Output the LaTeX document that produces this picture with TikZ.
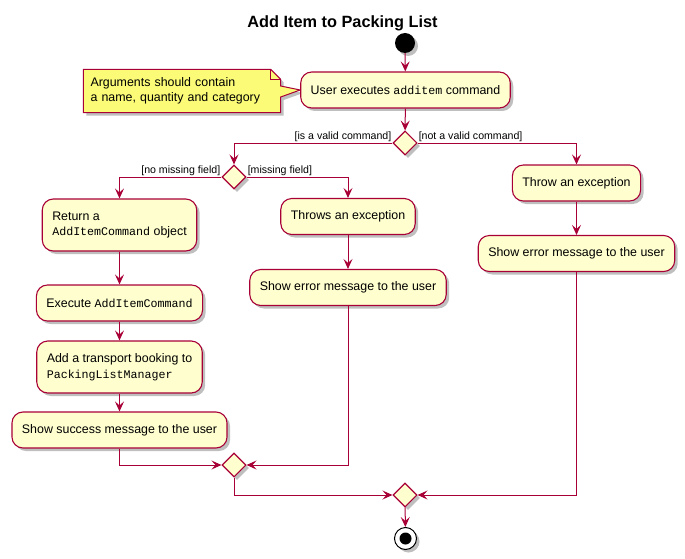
\documentclass[tikz,border=0pt]{standalone}
\usepackage{fontspec}
\setmainfont{Liberation Sans}
\setmonofont[Scale=0.94]{Liberation Mono}
\usepackage{tikz}
\usetikzlibrary{shapes,shapes.geometric,calc,arrows,arrows.meta,positioning,shadows,backgrounds}
\definecolor{umlred}{HTML}{A80036}
\definecolor{actfill}{HTML}{FEFECE}
\definecolor{notefill}{HTML}{FBFB77}
\tikzset{
  shade/.style={drop shadow={shadow xshift=3pt, shadow yshift=-3pt, opacity=0.25, fill=black}},
  action/.style={draw=umlred, fill=actfill, line width=1.1pt, rounded corners=11pt, inner xsep=10pt, minimum height=36pt, align=left, font=\fontsize{12.4}{15.5}\selectfont, shade},
  decision/.style={diamond, draw=umlred, fill=actfill, line width=1.1pt, minimum width=24pt, minimum height=24pt, inner sep=0pt, shade},
  startdot/.style={circle, fill=black, minimum size=20pt, inner sep=0pt, shade},
  enddot/.style={circle, draw=black, fill=white, line width=1pt, minimum size=22pt, inner sep=0pt, shade, path picture={\fill[black] (path picture bounding box.center) circle (6pt);}},
  notebox/.style={text width=183pt, minimum height=43pt, inner xsep=7pt, align=left, font=\fontsize{12.4}{15.5}\selectfont},
  flow/.style={draw=umlred, line width=1pt, -{Stealth[length=10pt, width=9pt, inset=4pt]}},
  guard/.style={font=\fontsize{10.6}{13}\selectfont, inner sep=1pt}
}
\begin{document}
\begin{tikzpicture}[x=1pt, y=-1pt]
  \useasboundingbox (0,0) rectangle (685,559);
  \node (title) at (342.5,23) {\fontsize{16.3}{19}\selectfont\bfseries Add Item to Packing List};
  \node[startdot] (start) at (405,43) {};
  \node[action] (exec1) at (405.5,90) {User executes \texttt{additem} command};
  \node[notebox] (note) at (182,91) {Arguments should contain\\a name, quantity and category};
  \begin{scope}[on background layer]
    \path[fill=notefill, draw=umlred, line width=1pt, shade]
      (note.south west) -- (note.north west) -- ($(note.north east)+(-10,0)$)
      -- ($(note.north east)+(0,10)$) -- ($(note.east)+(0,-5)$) -- (exec1.west)
      -- ($(note.east)+(0,6)$) -- (note.south east) -- cycle;
    \draw[umlred, line width=1pt] ($(note.north east)+(-10,0)$) -- ($(note.north east)+(-10,10)$) -- ($(note.north east)+(0,10)$);
  \end{scope}
  \node[decision] (valid) at (405,143) {};
  \node[decision] (field) at (234,177) {};
  \node[action, minimum height=52pt] (ret) at (119.5,225) {Return a\\\texttt{AddItemCommand} object};
  \node[action] (exec) at (119.5,303) {Execute \texttt{AddItemCommand}};
  \node[action, minimum height=52pt] (add) at (119.5,367) {Add a transport booking to\\\texttt{PackingListManager}};
  \node[action] (success) at (119.5,430) {Show success message to the user};
  \node[action] (throws) at (348,216.5) {Throws an exception};
  \node[action] (err1) at (348,287.5) {Show error message to the user};
  \node[action] (throw) at (576.5,183) {Throw an exception};
  \node[action] (err2) at (576.5,253.5) {Show error message to the user};
  \node[decision] (merge1) at (234,465) {};
  \node[decision] (merge2) at (405,495) {};
  \node[enddot] (end) at (405.5,538.5) {};

  \draw[flow] (start) -- (exec1);
  \draw[flow] (exec1) -- (valid);
  \draw[flow] (valid.west) -| (field.north);
  \node[guard, anchor=south east] at (valid.west) {[is a valid command]};
  \draw[flow] (valid.east) -| (throw.north);
  \node[guard, anchor=south west] at (valid.east) {[not a valid command]};
  \draw[flow] (field.west) -| (ret.north);
  \node[guard, anchor=south east] at (field.west) {[no missing field]};
  \draw[flow] (field.east) -| (throws.north);
  \node[guard, anchor=south west] at (field.east) {[missing field]};
  \draw[flow] (ret) -- (exec);
  \draw[flow] (exec) -- (add);
  \draw[flow] (add) -- (success);
  \draw[flow] (success.south) |- (merge1.west);
  \draw[flow] (throws) -- (err1);
  \draw[flow] (err1.south) |- (merge1.east);
  \draw[flow] (throw) -- (err2);
  \draw[flow] (merge1.south) |- (merge2.west);
  \draw[flow] (err2.south) |- (merge2.east);
  \draw[flow] (merge2) -- (end);
\end{tikzpicture}
\end{document}
